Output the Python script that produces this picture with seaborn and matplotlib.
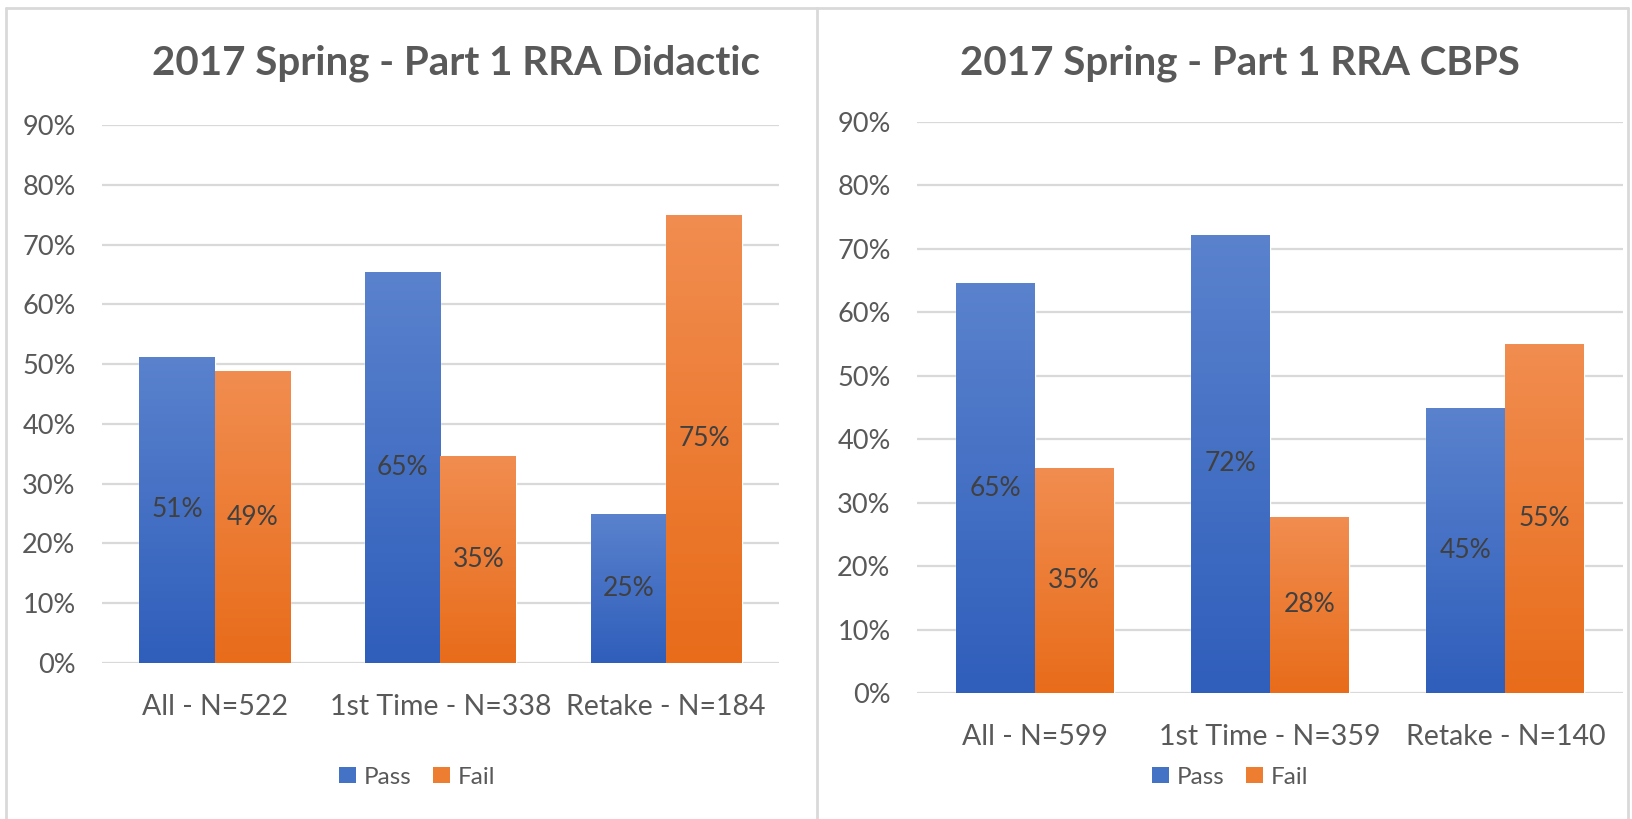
import numpy as np
import pandas as pd
import matplotlib
matplotlib.use("Agg")
import matplotlib.pyplot as plt
import seaborn as sns
from matplotlib.lines import Line2D
from matplotlib.patches import Patch
from matplotlib.colors import LinearSegmentedColormap
from matplotlib.ticker import FuncFormatter

# === Data ===
results = ["Pass", "Fail"]

didactic_title = "2017 Spring - Part 1 RRA Didactic"
didactic_groups = ["All - N=522", "1st Time - N=338", "Retake - N=184"]
didactic_pass = [51.2, 65.4, 25.0]
didactic_fail = [48.8, 34.6, 75.0]

cbps_title = "2017 Spring - Part 1 RRA CBPS"
cbps_groups = ["All - N=599", "1st Time - N=359", "Retake - N=140"]
cbps_pass = [64.6, 72.2, 45.0]
cbps_fail = [35.4, 27.8, 55.0]

y_ticks = [0, 10, 20, 30, 40, 50, 60, 70, 80, 90]

# === Style ===
sns.set_style("white")
plt.rcParams["font.family"] = ["Lato", "DejaVu Sans"]

W, H = 1633, 819
TEXT = "#595959"
GRID = "#d9d9d9"
solid = {"Pass": "#4472c4", "Fail": "#ed7d31"}
grad = {
    "Pass": LinearSegmentedColormap.from_list("blue", ["#2f5ebb", "#5a82cd"]),
    "Fail": LinearSegmentedColormap.from_list("orange", ["#e86c1a", "#f18d50"]),
}


def fx(px):
    return px / W


def fy(py):
    return 1 - py / H


def draw_panel(ax, title, groups, pass_vals, fail_vals, title_x, legend_x, legend_y):
    df = pd.DataFrame({
        "group": groups * 2,
        "result": ["Pass"] * len(groups) + ["Fail"] * len(groups),
        "pct": pass_vals + fail_vals,
    })
    sns.barplot(data=df, x="group", y="pct", hue="result", hue_order=results,
                palette=solid, width=0.67, saturation=1, legend=False, ax=ax)

    # gradient fill like Excel, clipped to each bar
    g = np.linspace(0, 1, 256).reshape(-1, 1)
    for res, cont, vals in zip(results, ax.containers, [pass_vals, fail_vals]):
        for bar in cont:
            x0, w, h = bar.get_x(), bar.get_width(), bar.get_height()
            im = ax.imshow(g, extent=[x0, x0 + w, 0, h], origin="lower",
                           cmap=grad[res], aspect="auto", zorder=bar.get_zorder() + 0.1)
            im.set_clip_path(bar)
        ax.bar_label(cont, labels=[f"{v:.0f}%" for v in vals], label_type="center",
                     fontsize=19, color="#404040", zorder=5)

    ax.set_xlim(-0.5, len(groups) - 0.5)
    ax.set_ylim(0, 90)
    ax.set_yticks(y_ticks)
    ax.yaxis.set_major_formatter(FuncFormatter(lambda v, p: f"{v:.0f}%"))
    ax.grid(axis="y", color=GRID, linewidth=1.6)
    ax.set_axisbelow(True)
    sns.despine(ax=ax, left=True, bottom=True)
    ax.set_xlabel("")
    ax.set_ylabel("")
    ax.tick_params(axis="y", length=0, pad=19, labelsize=19.5, labelcolor=TEXT)
    ax.tick_params(axis="x", length=0, pad=22, labelsize=20.5, labelcolor=TEXT)

    fig = ax.figure
    fig.text(fx(title_x), fy(63), title, ha="center", va="center",
             fontsize=29, fontweight="bold", color=TEXT)

    handles = [Patch(facecolor=solid[r], edgecolor="none", label=r) for r in results]
    ax.legend(handles=handles, loc="center", bbox_to_anchor=(fx(legend_x), fy(legend_y)),
              bbox_transform=fig.transFigure, ncol=2, frameon=False, fontsize=17.5,
              labelcolor=TEXT, handlelength=0.7, handleheight=0.65,
              handletextpad=0.3, columnspacing=0.9)


fig = plt.figure(figsize=(W / 100, H / 100), dpi=100)
fig.patch.set_facecolor("white")

ax1 = fig.add_axes([fx(102), fy(663), fx(779 - 102), (663 - 125) / H])
ax2 = fig.add_axes([fx(917), fy(693), fx(1623 - 917), (693 - 122) / H])

draw_panel(ax1, didactic_title, didactic_groups, didactic_pass, didactic_fail, 456, 417, 777)
draw_panel(ax2, cbps_title, cbps_groups, cbps_pass, cbps_fail, 1240, 1230, 777)

# chart frames
for xs, ys in [([6, 1628], [8, 8]), ([6, 6], [8, 819]), ([817, 817], [8, 819]),
               ([1628, 1628], [8, 819])]:
    fig.add_artist(Line2D([fx(x) for x in xs], [fy(y) for y in ys],
                          transform=fig.transFigure, color=GRID, linewidth=2))

fig.savefig("out.png", dpi=100, facecolor="white")
